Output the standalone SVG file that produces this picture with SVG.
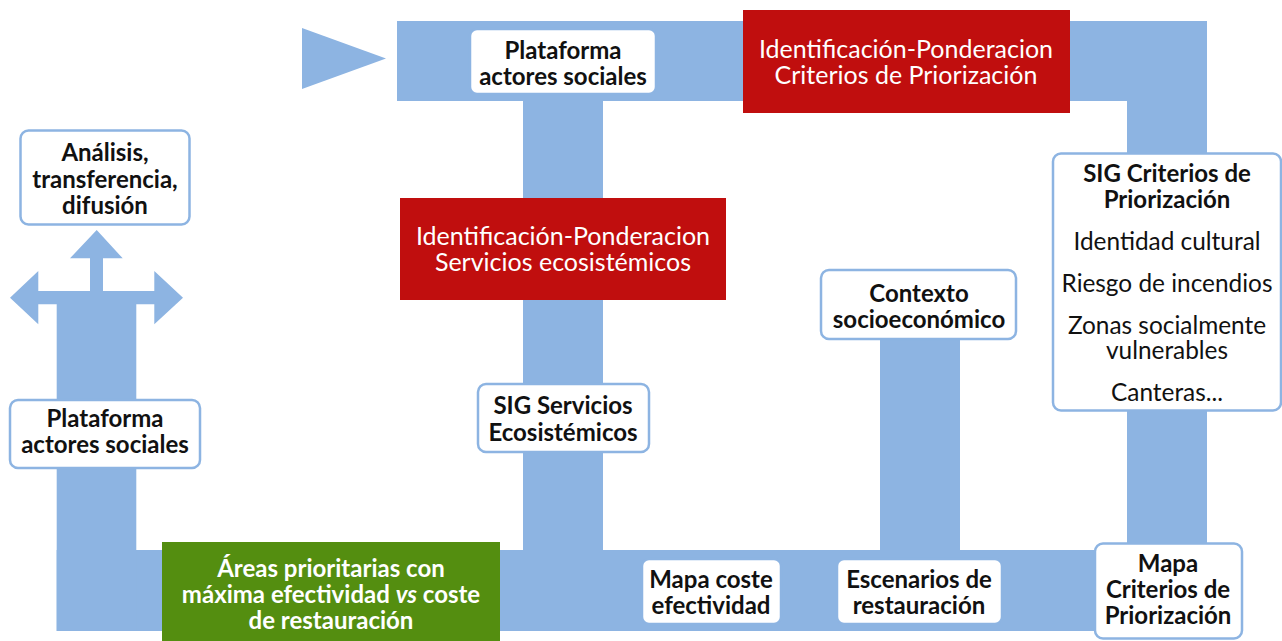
<svg xmlns="http://www.w3.org/2000/svg" width="1282" height="641" viewBox="0 0 1282 641">
<style>
.band{fill:#8DB4E2}
.box{fill:#fff;stroke:#8DB4E2;stroke-width:2.5}
.red{fill:#C00E0E}
.green{fill:#548E10}
text{font-family:Lato,"Open Sans","Liberation Sans",sans-serif;font-size:24px;text-anchor:middle}
.b{font-weight:bold;fill:#111}
.r{font-weight:normal;fill:#111;font-size:24.4px}
.w{font-weight:normal;fill:#fff;font-size:25px}
.wb{font-weight:bold;fill:#fff}
</style>
<rect width="1282" height="641" fill="#fff"/>
<g id="connectors">
<polygon class="band" points="302,28 386,58.5 302,89"/>
<rect class="band" x="397" y="21" width="809" height="80"/>
<rect class="band" x="1127" y="21" width="80" height="525"/>
<rect class="band" x="523" y="101" width="80" height="449"/>
<rect class="band" x="880" y="338" width="80" height="212"/>
<rect class="band" x="56.7" y="550" width="1050" height="81"/>
<path class="band" d="M96.7,230 L122.7,258.3 L103,258.3 L103,291 L154.3,291 L154.3,271 L183,297.7 L154.3,324.3 L154.3,304.3 L136.3,304.3 L136.3,631 L56.7,631 L56.7,304.3 L38.3,304.3 L38.3,324.3 L10,297.7 L38.3,271 L38.3,291 L90,291 L90,258.3 L70,258.3 Z"/>
</g>
<g id="n-plataforma-top">
<rect class="box" x="470" y="29" width="186" height="65" rx="7"/>
<text class="b" x="563" y="59">Plataforma</text>
<text class="b" x="563" y="85">actores sociales</text>
</g>
<g id="n-ident-criterios">
<rect class="red" x="743" y="10" width="327" height="103"/>
<text class="w" x="906" y="58">Identificación-Ponderacion</text>
<text class="w" x="906" y="84">Criterios de Priorización</text>
</g>
<g id="n-ident-servicios">
<rect class="red" x="400" y="198" width="326" height="102"/>
<text class="w" x="563" y="245">Identificación-Ponderacion</text>
<text class="w" x="563" y="271">Servicios ecosistémicos</text>
</g>
<g id="n-analisis">
<rect class="box" x="20.5" y="130.5" width="169" height="94" rx="8"/>
<text class="b" x="105" y="161">Análisis,</text>
<text class="b" x="105" y="188">transferencia,</text>
<text class="b" x="105" y="214">difusión</text>
</g>
<g id="n-plataforma-left">
<rect class="box" x="10" y="400" width="190" height="68" rx="8"/>
<text class="b" x="105" y="427">Plataforma</text>
<text class="b" x="105" y="453">actores sociales</text>
</g>
<g id="n-sig-servicios">
<rect class="box" x="478" y="384" width="171" height="68" rx="8"/>
<text class="b" x="563" y="414">SIG Servicios</text>
<text class="b" x="563" y="441">Ecosistémicos</text>
</g>
<g id="n-contexto">
<rect class="box" x="821" y="270" width="195" height="69" rx="8"/>
<text class="b" x="919" y="302">Contexto</text>
<text class="b" x="919" y="328">socioeconómico</text>
</g>
<g id="n-sig-criterios">
<rect class="box" x="1053" y="153.5" width="228" height="257" rx="8"/>
<text class="b" x="1167" y="182">SIG Criterios de</text>
<text class="b" x="1167" y="208">Priorización</text>
<text class="r" x="1167" y="250">Identidad cultural</text>
<text class="r" x="1167" y="292">Riesgo de incendios</text>
<text class="r" x="1167" y="334">Zonas socialmente</text>
<text class="r" x="1167" y="359">vulnerables</text>
<text class="r" x="1167" y="401">Canteras...</text>
</g>
<g id="n-areas">
<rect class="green" x="162" y="542" width="338" height="99"/>
<text class="wb" x="331" y="577">Áreas prioritarias con</text>
<text class="wb" x="331" y="603">máxima efectividad <tspan font-style="italic">vs</tspan> coste</text>
<text class="wb" x="331" y="629">de restauración</text>
</g>
<g id="n-mapa-coste">
<rect class="box" x="642" y="559" width="139" height="65" rx="7"/>
<text class="b" x="711" y="588">Mapa coste</text>
<text class="b" x="711" y="614">efectividad</text>
</g>
<g id="n-escenarios">
<rect class="box" x="837" y="559" width="165" height="65" rx="7"/>
<text class="b" x="919" y="588">Escenarios de</text>
<text class="b" x="919" y="614">restauración</text>
</g>
<g id="n-mapa-criterios">
<rect class="box" x="1095" y="543.5" width="147" height="95" rx="8"/>
<text class="b" x="1168" y="572">Mapa</text>
<text class="b" x="1168" y="598">Criterios de</text>
<text class="b" x="1168" y="624">Priorización</text>
</g>
</svg>
